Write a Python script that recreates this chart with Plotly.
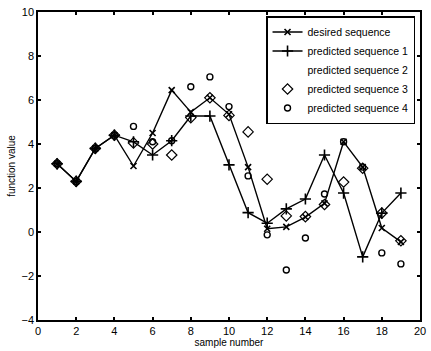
import plotly.graph_objects as go

samples = list(range(1, 20))
desired = [3.1, 2.3, 3.8, 4.4, 3.0, 4.5, 6.45, 5.45, 6.1, 5.35, 2.95, 0.15, 0.23, 0.68, 1.3, 4.1, 2.95, 0.18, -0.45]
pred1 = [3.1, 2.3, 3.8, 4.4, 4.1, 3.5, 4.15, 5.27, 5.27, 3.05, 0.88, 0.4, 1.05, 1.5, 3.5, 1.77, -1.13, 0.86, 1.77]
pred3 = [3.1, 2.3, 3.8, 4.4, 4.05, 4.0, 3.5, 5.2, 6.1, 5.3, 4.55, 2.4, 0.73, 0.7, 1.25, 2.27, 2.9, 0.86, -0.4]
pred4 = [3.1, 2.3, 3.8, 4.4, 4.8, 4.1, 4.15, 6.6, 7.05, 5.7, 2.55, -0.13, -1.73, -0.27, 1.73, 4.1, 2.95, -0.95, -1.45]

x_ticks = list(range(0, 21, 2))
y_ticks = list(range(-4, 11, 2))

FONT = "Liberation Sans, Arial, sans-serif"

fig = go.Figure()
fig.add_trace(go.Scatter(
    x=samples, y=desired, name="desired sequence", mode="lines+markers",
    line=dict(color="black", width=1.4),
    marker=dict(symbol="x-thin", size=6, color="black", line=dict(color="black", width=1.6))))
fig.add_trace(go.Scatter(
    x=samples, y=pred1, name="predicted sequence 1", mode="lines+markers",
    line=dict(color="black", width=1.4),
    marker=dict(symbol="cross-thin", size=8, color="black", line=dict(color="black", width=1.6))))
fig.add_trace(go.Scatter(
    x=[None], y=[None], name="predicted sequence 2", mode="lines",
    line=dict(color="rgba(0,0,0,0)", width=0)))
fig.add_trace(go.Scatter(
    x=samples, y=pred3, name="predicted sequence 3", mode="markers",
    marker=dict(symbol="diamond-open", size=8, color="black", line=dict(color="black", width=1.2))))
fig.add_trace(go.Scatter(
    x=samples, y=pred4, name="predicted sequence 4", mode="markers",
    marker=dict(symbol="circle-open", size=6, color="black", line=dict(color="black", width=1.4))))

axis_common = dict(
    showgrid=False, zeroline=False, showline=True, mirror="ticks",
    linecolor="black", linewidth=1.5, ticks="inside", ticklen=3,
    tickcolor="black", tickwidth=2,
    tickfont=dict(family=FONT, size=11, color="black"),
)

fig.update_layout(
    width=431, height=351,
    margin=dict(l=38, r=5, t=12, b=31),
    paper_bgcolor="white", plot_bgcolor="white",
    font=dict(family=FONT, size=10, color="black"),
    xaxis=dict(range=[0, 20], tickvals=x_ticks,
               title=dict(text="sample number", standoff=2, font=dict(family=FONT, size=10)),
               **axis_common),
    yaxis=dict(range=[-4, 10], tickvals=y_ticks,
               title=dict(text="function value", standoff=4, font=dict(family=FONT, size=10)),
               **axis_common),
    legend=dict(x=0.987, y=0.987, xanchor="right", yanchor="top",
                bgcolor="white", bordercolor="black", borderwidth=1.5,
                font=dict(family=FONT, size=10.5, color="black"),
                itemwidth=30, tracegroupgap=0),
    showlegend=True,
)

fig.write_html("out.html")
